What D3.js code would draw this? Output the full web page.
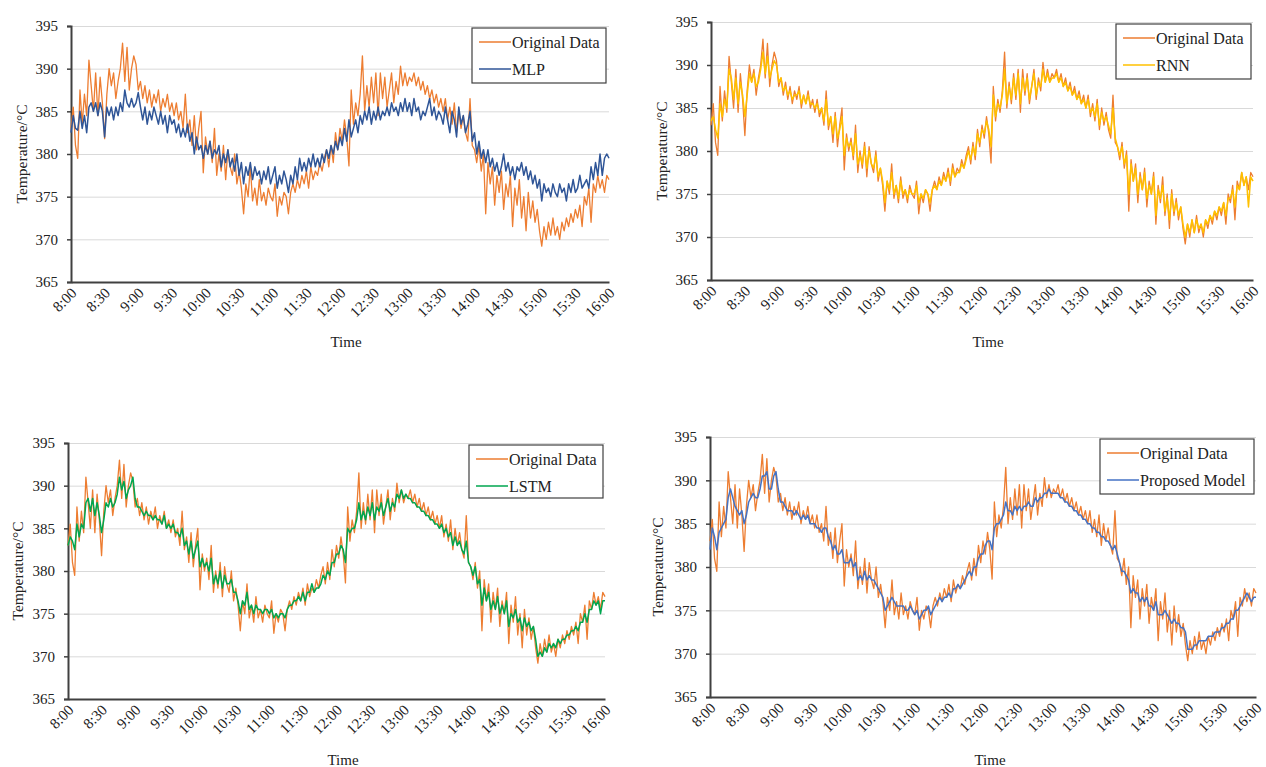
<!DOCTYPE html>
<html>
<head>
<meta charset="utf-8">
<script src="https://cdn.jsdelivr.net/npm/d3@7"></script>
<style>
  html, body { margin: 0; padding: 0; background: #ffffff; }
  svg { display: block; }
  svg text { font-family: "Liberation Serif", "Times New Roman", serif; }
</style>
</head>
<body>
<svg id="fig" width="1266" height="767"></svg>
<script>
// Sampling interval of every series, in minutes from 8:00
const sampleStep = 2;
const serifFont = "Liberation Serif, Times New Roman, serif";

const timeTicks = [0, 30, 60, 90, 120, 150, 180, 210, 240, 270, 300, 330, 360, 390, 420, 450, 480];
const timeTickLabels = ["8:00", "8:30", "9:00", "9:30", "10:00", "10:30", "11:00", "11:30", "12:00",
  "12:30", "13:00", "13:30", "14:00", "14:30", "15:00", "15:30", "16:00"];
const tempTicks = [365, 370, 375, 380, 385, 390, 395];

// Measured temperature (°C)
const originalData = [
  383.0, 385.5, 381.0, 379.5, 387.5, 383.5, 387.0, 384.5, 391.0, 388.0,
  385.0, 389.5, 384.5, 389.0, 386.0, 381.8, 387.0, 390.0, 388.0, 389.5,
  386.5, 388.5, 390.0, 393.0, 388.5, 392.5, 387.5, 390.0, 391.5, 390.5,
  387.5, 388.5, 386.5, 388.0, 386.0, 387.5, 385.5, 387.0, 386.0, 387.5,
  385.0, 386.5, 385.5, 387.0, 385.0, 386.0, 384.5, 386.0, 384.0, 385.0,
  383.0, 387.0, 382.5, 384.0, 381.0, 384.5, 380.5, 383.0, 385.0, 377.8,
  382.0, 380.0, 381.5, 379.0, 383.0, 377.5, 380.0, 378.0, 381.0, 377.0,
  380.5, 378.5, 377.5, 380.0, 376.5, 378.0, 376.0, 373.0, 376.5, 375.0,
  378.5, 374.5, 376.0, 374.0, 377.0, 374.5, 375.5, 374.0, 376.0, 375.0,
  374.5, 376.5, 372.7, 375.0, 374.0, 375.5, 375.0, 373.0, 375.5, 376.5,
  375.5, 377.0, 376.0, 377.5, 376.5, 378.0, 376.0, 378.5, 377.0, 378.0,
  377.5, 379.0, 378.0, 379.5, 380.5, 378.5, 381.0, 379.0, 382.5, 380.5,
  383.0, 381.5, 384.0, 382.0, 378.6, 387.5, 383.5, 386.0, 384.5, 387.0,
  391.5, 385.0, 388.0, 385.5, 389.0, 386.0, 389.5, 384.5, 389.5, 386.5,
  389.0, 385.5, 387.5, 389.5, 386.0, 388.5, 387.0, 390.3, 388.0, 389.5,
  388.0, 389.0, 388.5, 389.5, 388.0, 389.0, 387.5, 388.5, 387.0, 388.0,
  386.5, 387.5, 386.0, 387.0, 385.5, 386.5, 385.0, 386.5, 384.0, 385.5,
  383.5, 386.0, 382.5, 385.0, 383.0, 384.5, 382.5, 381.5, 386.5, 381.0,
  380.5, 379.0, 381.0, 378.0, 380.0, 373.0, 379.0, 376.5, 378.5, 374.0,
  377.5, 375.5, 378.0, 373.5, 376.5, 375.0, 377.5, 371.5, 376.0, 374.0,
  377.0, 372.5, 375.0, 371.0, 375.5, 372.5, 374.5, 372.0, 373.5, 371.0,
  369.2, 371.5, 370.0, 372.0, 370.5, 372.5, 370.5, 371.5, 370.0, 372.0,
  371.0, 372.5, 371.5, 373.0, 372.0, 373.5, 372.5, 374.0, 371.5, 375.0,
  374.0, 376.0, 372.0, 376.5, 375.5, 377.5, 376.0, 377.0, 375.5, 377.5,
  377.0
];

const mlpPred = [
  382.5, 384.5, 383.0, 382.8, 385.0, 383.0, 384.5, 382.5, 385.5, 386.0,
  385.0, 386.0, 384.5, 386.0, 385.0, 382.0, 385.5, 384.5, 385.5, 384.0,
  385.5, 384.5, 386.0, 385.0, 387.5, 386.0, 385.5, 386.5, 385.5, 386.0,
  387.2, 385.5, 384.0, 385.5, 383.5, 385.0, 384.0, 385.5, 384.5, 383.5,
  385.0, 383.5, 384.5, 382.5, 384.5, 383.5, 384.0, 382.5, 383.5, 382.0,
  383.0, 382.0, 383.5, 381.5, 382.5, 380.0, 382.0, 380.5, 381.0, 379.5,
  381.0, 380.0, 381.5, 379.5, 380.5, 380.0, 381.0, 378.5, 380.0, 379.0,
  380.5, 378.5, 379.5, 378.0, 380.0, 377.5, 379.0, 376.5, 378.5, 377.5,
  379.0, 377.0, 378.5, 377.5, 378.0, 376.5, 378.0, 377.0, 378.5, 376.5,
  377.5, 378.5, 376.0, 377.5, 376.5, 378.0, 377.0, 375.5, 377.5, 376.5,
  378.5, 377.0, 379.5, 378.0, 379.0, 378.0, 379.5, 378.5, 380.0, 378.5,
  379.5, 378.5, 380.0, 379.0, 380.5, 379.5, 381.0, 380.0, 381.5, 380.5,
  382.0, 381.0, 383.0, 381.5, 384.0, 382.0, 383.0, 384.0, 382.5, 384.5,
  383.5, 385.0, 384.0, 385.5, 383.5, 385.0, 384.0, 385.5, 384.0, 385.0,
  384.5, 385.5, 384.5, 386.0, 385.0, 385.5, 384.5, 386.0, 385.0, 386.5,
  385.0, 386.0, 384.5, 386.5, 385.0, 385.5, 384.0, 385.0, 384.5, 385.5,
  386.5, 384.5, 385.5, 384.0, 385.0, 384.5, 383.5, 385.5, 384.0, 382.5,
  385.0, 384.0, 382.0, 385.5, 383.5, 384.5, 382.5, 383.5, 385.0, 381.5,
  382.5, 380.0, 381.5, 379.5, 380.5, 379.0, 380.5, 378.5, 379.5, 378.0,
  379.0, 377.5, 378.5, 380.0, 378.0, 379.0, 377.5, 378.5, 377.0, 378.5,
  378.0, 379.0, 377.5, 378.5, 377.0, 378.0, 376.5, 377.5, 376.0, 377.0,
  374.5, 376.5, 375.5, 376.0, 375.0, 376.5, 375.5, 375.0, 376.5, 375.5,
  376.0, 374.5, 376.5, 375.5, 377.0, 375.5, 376.0, 377.5, 376.0, 376.5,
  377.0, 376.0, 378.5, 377.0, 379.0, 377.5, 380.0, 377.5, 379.5, 380.0,
  379.5
];

const rnnPred = [
  383.5, 384.0, 382.5, 381.5, 385.5, 384.0, 386.0, 385.0, 389.5, 388.5,
  386.0, 388.5, 385.5, 388.0, 386.5, 384.0, 386.5, 389.0, 388.0, 389.0,
  387.5, 388.0, 389.5, 391.5, 389.0, 391.0, 388.5, 389.5, 390.5, 390.0,
  388.0, 388.5, 387.0, 387.5, 386.5, 387.0, 386.0, 386.5, 386.5, 387.0,
  385.5, 386.5, 385.5, 386.5, 385.5, 385.5, 385.0, 385.5, 384.5, 385.0,
  383.5, 386.0, 383.0, 384.0, 382.0, 384.0, 381.5, 382.5, 384.0, 379.5,
  381.5, 380.5, 381.0, 379.5, 382.0, 378.5, 379.5, 378.5, 380.5, 378.0,
  380.0, 378.5, 378.0, 379.5, 377.0, 378.0, 376.5, 374.0, 376.5, 375.5,
  377.5, 375.0, 376.0, 374.5, 376.5, 375.0, 375.5, 374.5, 375.5, 375.0,
  375.0, 376.0, 374.0, 375.0, 374.5, 375.5, 375.0, 374.0, 375.5, 376.0,
  375.5, 376.5, 376.0, 377.0, 376.5, 377.5, 376.5, 378.0, 377.0, 377.5,
  377.5, 378.5, 378.0, 379.0, 380.0, 379.0, 380.5, 379.5, 382.0, 381.0,
  382.5, 382.0, 383.5, 382.5, 380.5, 386.5, 384.0, 385.5, 385.0, 386.5,
  389.5, 385.5, 387.5, 386.0, 388.5, 386.5, 389.0, 385.5, 388.5, 387.0,
  388.5, 386.0, 387.5, 389.0, 386.5, 388.0, 387.5, 389.5, 388.0, 389.0,
  388.0, 388.5, 388.5, 389.0, 388.0, 388.5, 387.5, 388.0, 387.0, 387.5,
  386.5, 387.0, 386.0, 386.5, 385.5, 386.0, 385.0, 386.0, 384.5, 385.0,
  384.0, 385.5, 383.0, 384.5, 383.5, 384.0, 383.0, 382.0, 385.0, 381.5,
  380.5, 379.5, 380.5, 378.5, 379.5, 375.0, 378.5, 376.5, 378.0, 375.0,
  377.0, 375.5, 377.5, 374.5, 376.0, 375.0, 377.0, 372.5, 375.5, 374.5,
  376.0, 373.0, 374.5, 372.0, 375.0, 373.0, 374.0, 372.5, 373.5, 371.5,
  370.0, 371.5, 370.5, 372.0, 370.5, 372.0, 371.0, 371.5, 370.5, 372.0,
  371.5, 372.5, 372.0, 373.0, 372.5, 373.5, 373.0, 374.0, 372.5, 374.5,
  374.5, 375.5, 373.5, 376.0, 375.5, 377.5, 376.0, 377.0, 373.5, 377.0,
  376.5
];

const lstmPred = [
  383.0, 384.0, 383.5, 382.5, 385.5, 384.0, 385.5, 385.0, 388.0, 388.5,
  387.0, 388.5, 386.5, 388.0, 386.5, 384.5, 386.0, 388.0, 387.5, 388.5,
  387.5, 388.0, 389.0, 391.0, 389.5, 390.5, 388.5, 389.5, 390.0, 391.0,
  388.5, 387.5, 387.5, 387.0, 386.5, 387.0, 386.5, 386.5, 386.0, 386.5,
  386.0, 386.0, 385.5, 386.5, 385.0, 385.5, 385.0, 385.5, 384.5, 384.5,
  384.0, 385.0, 383.0, 383.5, 382.0, 383.5, 381.5, 382.5, 383.5, 380.5,
  381.5, 380.5, 381.0, 380.0, 381.5, 378.5, 379.5, 378.5, 380.0, 378.0,
  379.5, 378.5, 378.5, 379.0, 377.5, 377.5, 376.5, 375.0, 376.5, 376.0,
  377.5, 375.5, 376.0, 375.0, 376.0, 375.5, 375.5, 375.0, 375.5, 375.5,
  375.0, 375.5, 374.5, 375.0, 374.5, 375.0, 375.0, 374.5, 375.5, 376.0,
  376.0, 376.5, 376.5, 377.0, 376.5, 377.5, 376.5, 377.5, 377.5, 378.5,
  377.5, 378.0, 378.0, 378.5, 379.5, 379.0, 380.0, 379.5, 381.0, 381.0,
  382.0, 382.0, 383.0, 382.5, 381.0, 385.0, 384.5, 385.0, 385.0, 386.0,
  388.0, 386.0, 387.0, 386.0, 387.5, 386.5, 388.0, 386.0, 387.5, 387.0,
  388.0, 386.5, 387.5, 388.5, 387.0, 388.0, 387.5, 389.0, 388.5, 389.5,
  388.5, 389.0, 388.5, 388.5, 388.0, 388.0, 387.5, 387.5, 387.0, 387.0,
  386.5, 386.5, 386.0, 386.0, 385.5, 385.5, 385.0, 385.5, 384.5, 385.0,
  384.0, 384.5, 383.0, 384.0, 383.0, 383.5, 382.5, 382.0, 383.5, 381.0,
  380.5, 379.5, 380.5, 378.5, 379.0, 376.0, 378.0, 376.5, 377.5, 375.5,
  376.5, 375.5, 377.0, 375.0, 376.0, 375.0, 376.5, 373.5, 375.0, 374.5,
  375.5, 374.0, 374.5, 373.0, 374.5, 373.5, 374.0, 373.0, 373.5, 372.0,
  370.0, 370.5, 370.0, 371.0, 370.5, 371.5, 371.0, 371.5, 371.0, 372.0,
  371.5, 372.0, 372.0, 372.5, 372.5, 373.0, 373.0, 373.5, 373.0, 374.0,
  374.0, 375.0, 374.0, 375.5, 375.5, 376.5, 376.0, 376.5, 375.0, 376.5,
  376.5
];

const proposedPred = [
  382.0, 384.5, 383.5, 382.0, 384.0, 384.5, 385.0, 385.5, 388.0, 389.0,
  388.0, 387.0, 386.5, 386.0, 386.5, 385.0, 386.0, 387.5, 388.0, 388.5,
  388.0, 388.0, 389.0, 390.5, 390.5, 391.0, 389.0, 389.0, 390.5, 391.0,
  389.0, 387.5, 387.5, 387.0, 386.5, 386.5, 386.5, 386.0, 386.5, 386.0,
  385.5, 386.0, 385.5, 386.0, 385.0, 385.0, 385.0, 384.5, 384.5, 384.0,
  384.5, 384.5, 383.5, 383.0, 382.0, 382.5, 381.5, 381.5, 382.0, 380.5,
  380.5, 380.5, 381.0, 380.0, 380.5, 378.5, 379.0, 378.5, 379.5, 378.5,
  379.0, 378.5, 378.5, 378.0, 377.5, 377.0, 376.5, 375.0, 375.5, 376.0,
  376.5, 376.0, 375.5, 375.5, 375.5, 375.5, 375.0, 375.0, 375.5, 375.0,
  374.5, 375.0, 374.0, 374.5, 375.0, 375.0, 375.5, 374.5, 375.0, 375.5,
  376.0, 376.5, 376.0, 376.5, 376.5, 377.0, 376.5, 377.5, 377.5, 378.0,
  377.5, 378.0, 378.5, 379.0, 379.5, 379.0, 380.0, 380.0, 381.0, 381.5,
  381.5, 382.5, 383.0, 383.0, 382.0, 384.5, 385.0, 385.0, 385.5, 386.0,
  387.5, 386.5, 386.5, 386.0, 387.0, 386.5, 387.0, 386.5, 387.0, 387.0,
  387.5, 387.0, 387.0, 388.0, 387.5, 388.0, 388.0, 388.5, 388.5, 389.0,
  388.5, 388.5, 388.5, 388.5, 388.0, 388.0, 387.5, 387.5, 387.0, 387.0,
  386.5, 386.5, 386.0, 386.0, 385.5, 385.5, 385.0, 385.0, 384.5, 384.5,
  384.0, 384.0, 383.5, 383.5, 383.0, 383.0, 382.5, 382.0, 382.5, 381.5,
  380.5, 379.5, 379.5, 379.0, 378.5, 377.0, 377.5, 377.0, 377.0, 376.0,
  376.5, 376.0, 376.5, 375.5, 375.5, 375.0, 376.0, 374.5, 374.5, 374.5,
  375.0, 374.5, 374.0, 373.5, 374.0, 373.5, 373.5, 373.0, 373.0, 372.5,
  370.5, 370.5, 370.5, 371.0, 371.0, 371.5, 371.5, 371.5, 371.5, 372.0,
  372.0, 372.0, 372.5, 372.5, 372.5, 373.0, 373.0, 373.5, 373.5, 374.0,
  374.0, 375.0, 375.0, 375.5, 376.0, 376.5, 377.0, 376.5, 376.0, 376.5,
  376.5
];

const seriesNames = ["Original Data", "MLP", "RNN", "LSTM", "Proposed Model"];
const originalColor = "#ED7D31";

// One panel per model, arranged 2 x 2
const panels = [
  { name: seriesNames[1], values: mlpPred, color: "#2F5597",
    box: { left: 71, right: 609, top: 26, bottom: 282 }, yLabelX: 21, timeX: 346, timeY: 347,
    legend: { x: 472, y: 28, w: 134, h: 55 } },
  { name: seriesNames[2], values: rnnPred, color: "#FFC000",
    box: { left: 711, right: 1253, top: 22, bottom: 280 }, yLabelX: 661, timeX: 988, timeY: 347,
    legend: { x: 1116, y: 24, w: 135, h: 55 } },
  { name: seriesNames[3], values: lstmPred, color: "#00A64F",
    box: { left: 68, right: 605, top: 443, bottom: 699 }, yLabelX: 17, timeX: 343, timeY: 765,
    legend: { x: 469, y: 445, w: 134, h: 53 } },
  { name: seriesNames[4], values: proposedPred, color: "#4472C4",
    box: { left: 710, right: 1256, top: 437, bottom: 697 }, yLabelX: 657, timeX: 990, timeY: 765,
    legend: { x: 1100, y: 439, w: 154, h: 55 } }
];

const svg = d3.select("#fig");

panels.forEach(p => {
  const b = p.box;
  const g = svg.append("g");

  const x = d3.scaleLinear().domain([0, 480]).range([b.left, b.right]);
  const y = d3.scaleLinear().domain([365, 395]).range([b.bottom, b.top]);

  // horizontal gridlines
  g.append("g")
    .attr("transform", `translate(${b.left},0)`)
    .call(d3.axisLeft(y).tickValues(tempTicks.slice(1)).tickSize(-(b.right - b.left)).tickFormat(""))
    .call(s => s.select(".domain").remove())
    .call(s => s.selectAll("line").attr("stroke", "#d9d9d9").attr("stroke-width", 1));

  // y axis with labels
  g.append("g")
    .attr("transform", `translate(${b.left},0)`)
    .call(d3.axisLeft(y).tickValues(tempTicks).tickSize(4).tickPadding(9).tickFormat(d3.format("d")))
    .call(s => s.attr("font-family", serifFont))
    .call(s => s.select(".domain").attr("stroke", "#404040").attr("stroke-width", 2))
    .call(s => s.selectAll(".tick line").attr("stroke", "#404040").attr("stroke-width", 1.5))
    .call(s => s.selectAll("text").attr("font-size", 15).attr("fill", "#222"));

  // x axis with rotated time labels
  const xAxis = g.append("g")
    .attr("transform", `translate(0,${b.bottom})`)
    .call(d3.axisBottom(x).tickValues(timeTicks).tickSize(0).tickFormat((d, i) => timeTickLabels[i]))
    .call(s => s.attr("font-family", serifFont))
    .call(s => s.select(".domain").attr("stroke", "#404040").attr("stroke-width", 2));
  xAxis.selectAll("text")
    .attr("font-size", 15).attr("fill", "#222")
    .attr("text-anchor", "end")
    .attr("dy", null).attr("y", null)
    .attr("transform", "translate(6,12) rotate(-45)");

  // series lines
  const line = d3.line()
    .x((d, i) => x(i * sampleStep))
    .y(d => y(d));

  g.append("path").datum(originalData)
    .attr("fill", "none").attr("stroke", originalColor).attr("stroke-width", 1.3)
    .attr("stroke-linejoin", "round").attr("d", line);
  g.append("path").datum(p.values)
    .attr("fill", "none").attr("stroke", p.color).attr("stroke-width", 1.5)
    .attr("stroke-linejoin", "round").attr("d", line);

  // axis titles
  g.append("text")
    .attr("transform", `translate(${p.yLabelX},${(b.top + b.bottom) / 2}) rotate(-90)`)
    .attr("text-anchor", "middle").attr("dominant-baseline", "central")
    .attr("font-family", serifFont)
    .attr("font-size", 15.5).attr("fill", "#222")
    .text("Temperature/°C");
  g.append("text")
    .attr("x", p.timeX).attr("y", p.timeY)
    .attr("text-anchor", "middle").attr("font-family", serifFont)
    .attr("font-size", 15).attr("fill", "#222")
    .text("Time");

  // legend
  const L = p.legend;
  const lg = g.append("g").attr("transform", `translate(${L.x},${L.y})`);
  lg.append("rect").attr("width", L.w).attr("height", L.h)
    .attr("fill", "#fff").attr("stroke", "#404040").attr("stroke-width", 1.2);
  const entries = [{ label: seriesNames[0], color: originalColor }, { label: p.name, color: p.color }];
  entries.forEach((e, i) => {
    const cy = 14 + i * 27;
    lg.append("line").attr("x1", 7).attr("x2", 39).attr("y1", cy).attr("y2", cy)
      .attr("stroke", e.color).attr("stroke-width", 1.5);
    lg.append("text").attr("x", 40).attr("y", cy).attr("dy", "0.35em")
      .attr("font-family", serifFont)
      .attr("font-size", 16).attr("fill", "#222").text(e.label);
  });
});
</script>
</body>
</html>
